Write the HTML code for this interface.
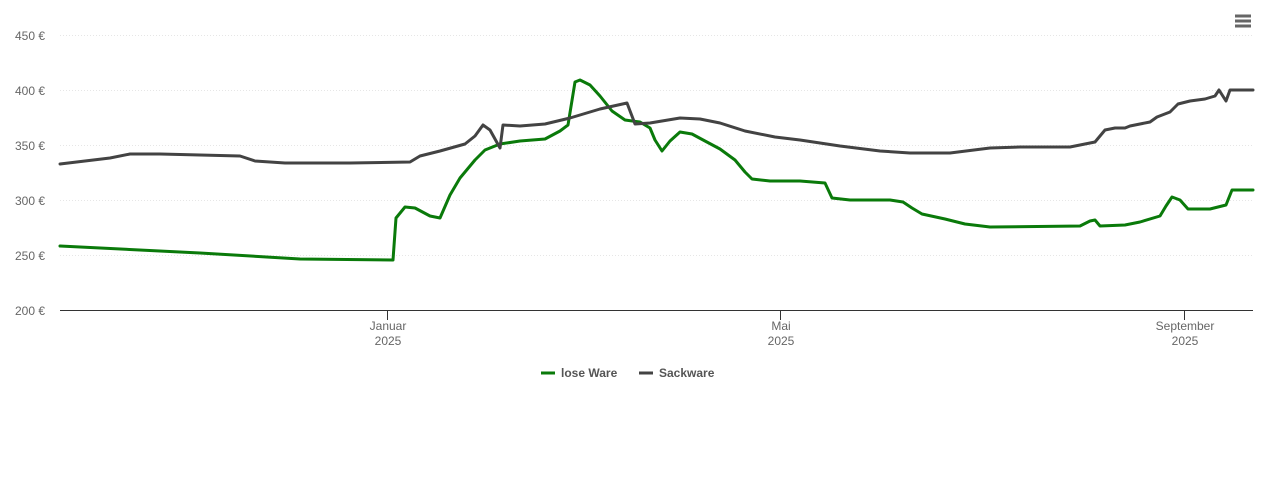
<!DOCTYPE html>
<html><head><meta charset="utf-8"><style>
body{margin:0;background:#fff;font-family:"Liberation Sans",sans-serif;}
</style></head><body>
<svg width="1264" height="482" xmlns="http://www.w3.org/2000/svg" font-family="Liberation Sans, sans-serif">
<rect width="1264" height="482" fill="#fff"/>
<g stroke="#e6e6e6" stroke-width="1" stroke-dasharray="1,2">
<line x1="60" x2="1253" y1="35.5" y2="35.5"/>
<line x1="60" x2="1253" y1="90.5" y2="90.5"/>
<line x1="60" x2="1253" y1="145.5" y2="145.5"/>
<line x1="60" x2="1253" y1="200.5" y2="200.5"/>
<line x1="60" x2="1253" y1="255.5" y2="255.5"/>
</g>
<line x1="60" x2="1253" y1="310.5" y2="310.5" stroke="#333" stroke-width="1"/>
<g stroke="#333"><line x1="387.5" x2="387.5" y1="310" y2="320"/><line x1="780.5" x2="780.5" y1="310" y2="320"/><line x1="1184.5" x2="1184.5" y1="310" y2="320"/></g>
<g font-size="12" fill="#666" text-anchor="end">
<text x="45" y="40">450 €</text><text x="45" y="95">400 €</text><text x="45" y="150">350 €</text>
<text x="45" y="205">300 €</text><text x="45" y="260">250 €</text><text x="45" y="315">200 €</text>
</g>
<g font-size="12" fill="#666" text-anchor="middle">
<text x="388" y="330">Januar</text><text x="388" y="345">2025</text>
<text x="781" y="330">Mai</text><text x="781" y="345">2025</text>
<text x="1185" y="330">September</text><text x="1185" y="345">2025</text>
</g>
<polyline fill="none" stroke="#0a7a0a" stroke-width="3" stroke-linejoin="round" stroke-linecap="round" points="60,246 200,253 300,259 393,260 396,218 405,207 415,208 430,216 440,218 450,195 460,178 475,160 485,150 500,144 520,141 545,139 560,131 568,125 575,82 580,80 590,85 600,96 612,111 625,120 640,122 650,128 655,140 662,151 670,141 680,132 692,134 705,141 720,149 735,160 745,172 752,179 770,181 800,181 825,183 832,198 850,200 890,200 903,202 912,208 922,214 945,219 965,224 990,227 1080,226 1090,221 1095,220 1100,226 1125,225 1140,222 1160,216 1166,206 1172,197 1180,200 1188,209 1210,209 1226,205 1232,190 1253,190"/>
<polyline fill="none" stroke="#434343" stroke-width="3" stroke-linejoin="round" stroke-linecap="round" points="60,164 110,158 130,154 160,154 200,155 240,156 255,161 285,163 350,163 410,162 420,156 440,151 465,144 475,136 483,125 490,130 500,148 503,125 520,126 545,124 570,118 600,109 627,103 635,124 650,123 680,118 700,119 720,123 745,131 775,137 800,140 840,146 880,151 910,153 950,153 990,148 1020,147 1070,147 1095,142 1105,130 1115,128 1125,128 1130,126 1150,122 1157,117 1170,112 1178,104 1190,101 1205,99 1215,96 1219,90 1226,101 1230,90 1253,90"/>
<g stroke="#666" stroke-width="3"><line x1="1235" x2="1251" y1="16" y2="16"/><line x1="1235" x2="1251" y1="21" y2="21"/><line x1="1235" x2="1251" y1="26" y2="26"/></g>
<line x1="541" x2="555" y1="373" y2="373" stroke="#0a7a0a" stroke-width="3"/>
<text x="561" y="377" font-size="12" font-weight="bold" fill="#555">lose Ware</text>
<line x1="639" x2="653" y1="373" y2="373" stroke="#434343" stroke-width="3"/>
<text x="659" y="377" font-size="12" font-weight="bold" fill="#555">Sackware</text>
</svg>
</body></html>
